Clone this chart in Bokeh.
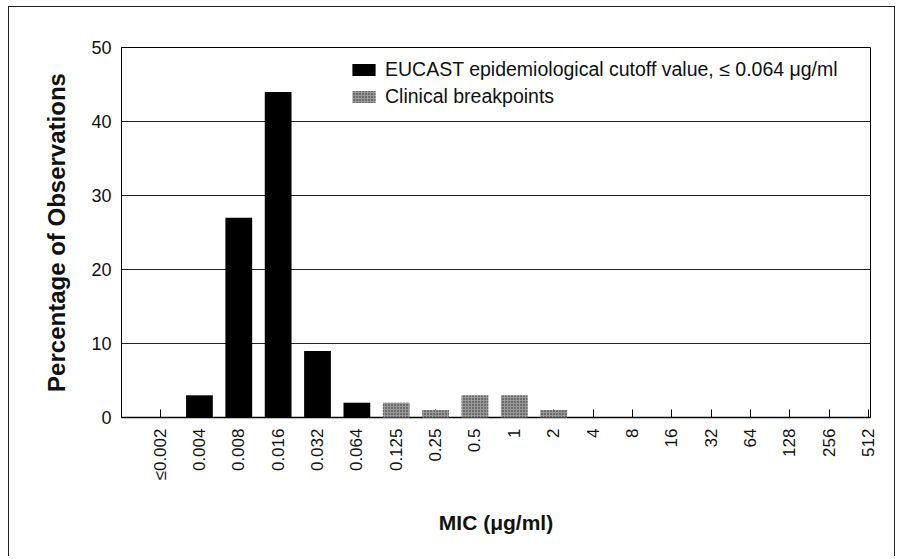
import numpy as np
from bokeh.plotting import figure
from bokeh.models import (ColumnDataSource, Range1d, FixedTicker, Legend, LegendItem)
from bokeh.embed import file_html
from bokeh.resources import INLINE

# ---- data -------------------------------------------------------------
categories = ["≤0.002", "0.004", "0.008", "0.016", "0.032", "0.064", "0.125",
              "0.25", "0.5", "1", "2", "4", "8", "16", "32", "64", "128", "256", "512"]
eucast = [0, 3, 27, 44, 9, 2, 0, 0, 0, 0, 0, 0, 0, 0, 0, 0, 0, 0, 0]
clinical = [0, 0, 0, 0, 0, 0, 2, 1, 3, 3, 1, 0, 0, 0, 0, 0, 0, 0, 0]
y_ticks = [0, 10, 20, 30, 40, 50]
eucast_label = "EUCAST epidemiological cutoff value, ≤ 0.064 μg/ml"
clinical_label = "Clinical breakpoints"
x_title = "MIC (μg/ml)"
y_title = "Percentage of Observations"

pos = list(range(len(categories)))
src = ColumnDataSource(dict(x=pos, cat=categories, eucast=eucast, clinical=clinical))

FONT = "Liberation Sans"

p = figure(width=887, height=550, output_backend="svg", toolbar_location=None,
           x_range=Range1d(-0.98, len(categories) - 0.95), y_range=Range1d(0, 50),
           min_border_left=112, min_border_right=26, min_border_top=40, min_border_bottom=140)
p.styles = {"margin-left": "8px", "margin-top": "6px",
            "border-top": "1px solid #222", "border-left": "1px solid #222",
            "border-right": "1px solid #222"}
p.background_fill_color = "white"
p.border_fill_color = "white"
p.outline_line_color = "black"
p.outline_line_width = 1

# bars (drawn above the axis so the inner tick marks only show where there is no bar)
r1 = p.vbar(x="x", top="eucast", width=0.68, source=src, fill_color="black", line_color=None,
            level="annotation")
r2 = p.vbar(x="x", top="clinical", width=0.68, source=src, fill_color="#9a9a9a", line_color=None,
            hatch_pattern="dot", hatch_color="#222222", hatch_scale=3, hatch_weight=1.2,
            level="annotation")

# grid
p.xgrid.visible = False
p.ygrid.ticker = FixedTicker(ticks=y_ticks)
p.ygrid.grid_line_color = "#222222"
p.ygrid.grid_line_width = 1

# y axis
p.yaxis.ticker = FixedTicker(ticks=y_ticks)
p.yaxis.major_tick_out = 0
p.yaxis.major_tick_in = 0
p.yaxis.minor_tick_line_color = None
p.yaxis.axis_line_color = "black"
p.yaxis.major_label_text_font = FONT
p.yaxis.major_label_text_font_size = "18px"
p.yaxis.major_label_text_color = "#111111"
p.yaxis.major_label_standoff = 10
p.yaxis.axis_label = y_title
p.yaxis.axis_label_text_font = FONT
p.yaxis.axis_label_text_font_style = "bold"
p.yaxis.axis_label_text_font_size = "24px"
p.yaxis.axis_label_text_color = "#111111"
p.yaxis.axis_label_standoff = 18

# x axis
p.xaxis.ticker = FixedTicker(ticks=pos)
p.xaxis.major_label_overrides = {i: c for i, c in zip(pos, categories)}
p.xaxis.major_label_orientation = np.pi / 2
p.xaxis.major_tick_in = 8
p.xaxis.major_tick_out = 0
p.xaxis.major_tick_line_color = "black"
p.xaxis.minor_tick_line_color = None
p.xaxis.axis_line_color = "black"
p.xaxis.axis_line_width = 1.5
p.xaxis.major_label_text_font = FONT
p.xaxis.major_label_text_font_size = "17px"
p.xaxis.major_label_text_color = "#111111"
p.xaxis.major_label_standoff = 11
p.xaxis.axis_label = x_title
p.xaxis.axis_label_text_font = FONT
p.xaxis.axis_label_text_font_style = "bold"
p.xaxis.axis_label_text_font_size = "21px"
p.xaxis.axis_label_text_color = "#111111"
p.xaxis.axis_label_standoff = 28

legend = Legend(items=[LegendItem(label=eucast_label, renderers=[r1]),
                       LegendItem(label=clinical_label, renderers=[r2])],
                location=(228, 309), orientation="vertical",
                border_line_color=None, background_fill_alpha=0,
                padding=0, margin=0, spacing=4,
                glyph_width=29, glyph_height=15, label_standoff=7, label_height=15,
                label_text_font=FONT, label_text_font_size="19.5px", label_text_color="#111111")
p.add_layout(legend)

open("out.html", "w").write(file_html(p, INLINE))
